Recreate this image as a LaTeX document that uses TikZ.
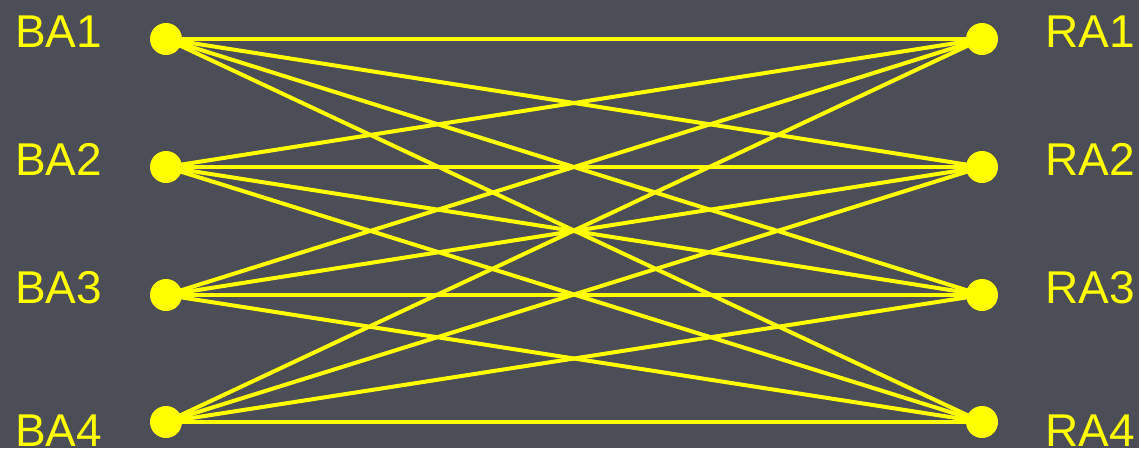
\documentclass[tikz,border=0pt]{standalone}
\usepackage{fontspec}
\setmainfont{Liberation Sans}
\definecolor{bg}{RGB}{75,78,87}
\definecolor{yel}{RGB}{255,255,0}
\begin{document}
\begin{tikzpicture}[x=1pt,y=-1pt,
  dot/.style={circle,fill=yel,inner sep=0pt,minimum size=32pt},
  lbl/.style={anchor=base west,inner sep=0pt,text=yel,font=\fontsize{46}{50}\selectfont},
  link/.style={draw=yel,line width=4pt}]
\fill[bg] (0,0) rectangle (1139,448);
\useasboundingbox (0,0) rectangle (1139,448);
\foreach \i/\y in {1/39,2/167,3/295,4/422}{
  \node[dot] (B\i) at (166,\y) {};
  \node[dot] (R\i) at (982,\y) {};
}
\node[lbl] (LB1) at (15,47) {BA1};
\node[lbl] (LB2) at (15,175) {BA2};
\node[lbl] (LB3) at (15,303) {BA3};
\node[lbl] (LB4) at (15,446) {BA4};
\node[lbl] (LR1) at (1045,47) {RA1};
\node[lbl] (LR2) at (1045,175) {RA2};
\node[lbl] (LR3) at (1045,303) {RA3};
\node[lbl] (LR4) at (1045,446) {RA4};
\foreach \i in {1,...,4}{
  \foreach \j in {1,...,4}{
    \draw[link] (B\i.center) -- (R\j.center);
  }
}
\end{tikzpicture}
\end{document}
